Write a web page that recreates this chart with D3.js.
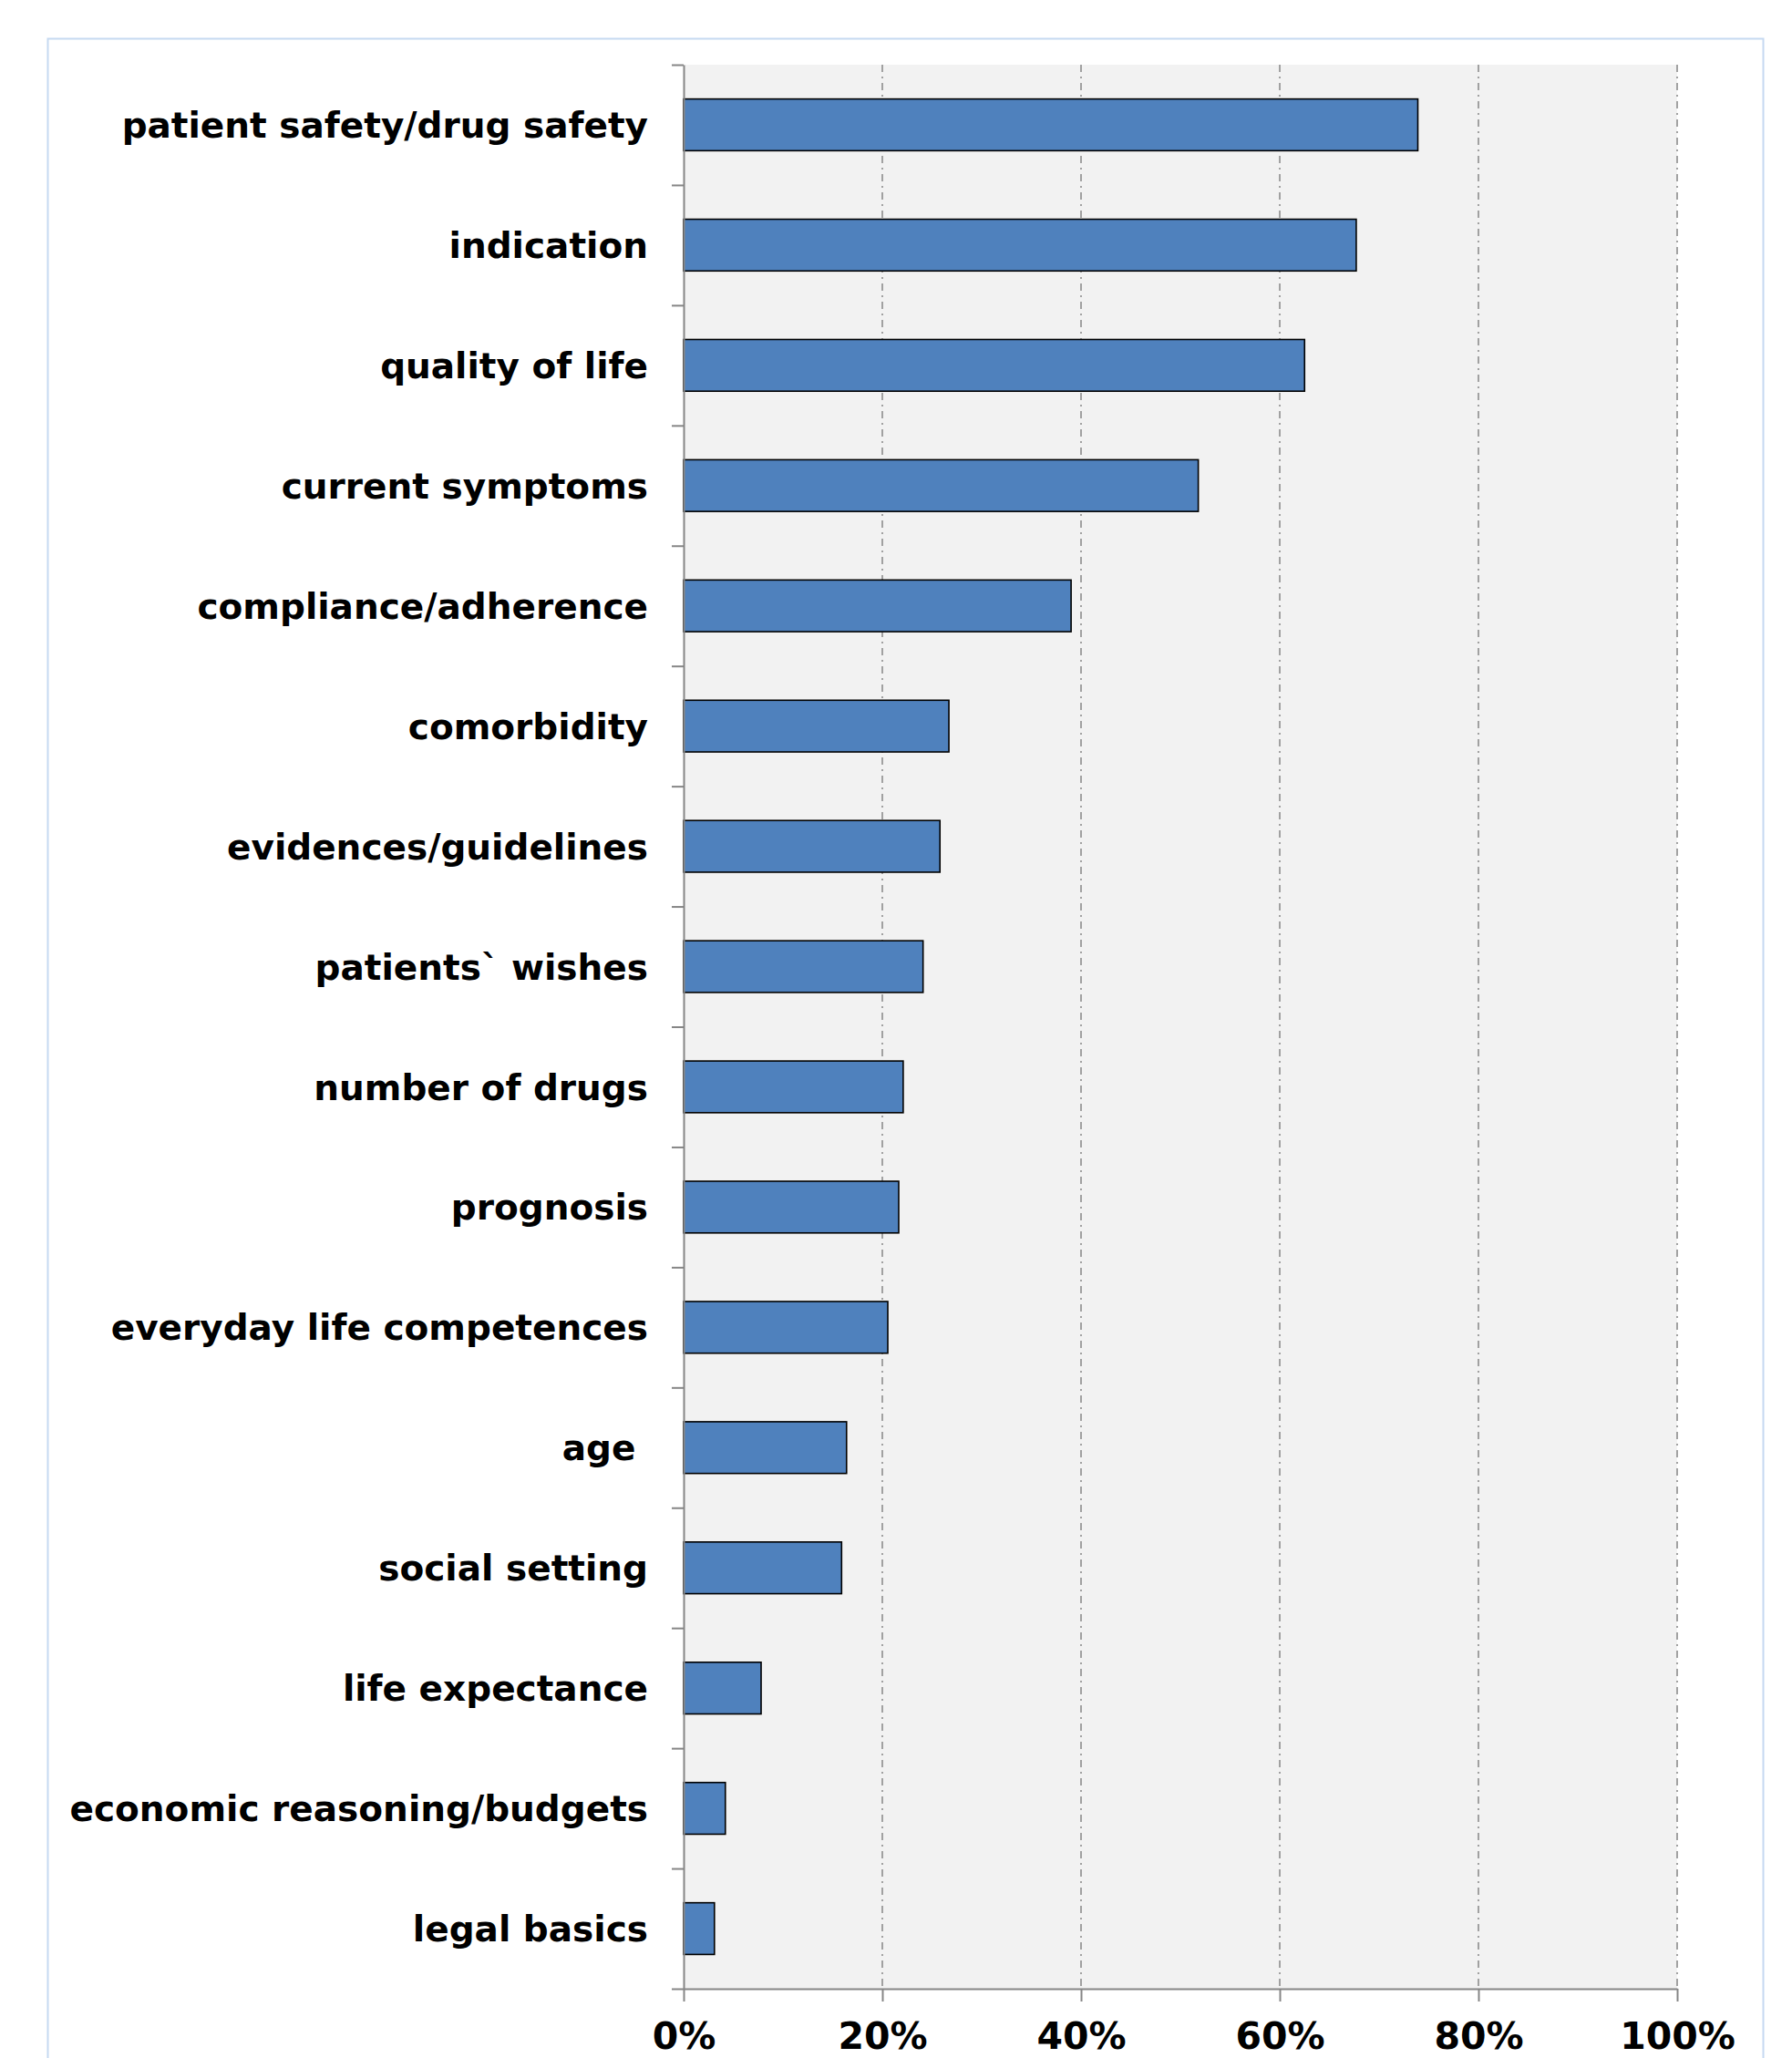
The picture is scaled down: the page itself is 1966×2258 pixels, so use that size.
<!DOCTYPE html>
<html>
<head>
<meta charset="utf-8">
<script src="https://cdn.jsdelivr.net/npm/d3@7"></script>
<style>
	body { margin: 0; background: #fff; }
	svg { display: block; }
	text { font-family: "DejaVu Sans", Verdana, sans-serif; font-weight: bold; fill: #000; }
</style>
</head>
<body>
<div id="chart"></div>
<script>
"use strict";

// Categories from top to bottom
var categories = [
	"patient safety/drug safety",
	"indication",
	"quality of life",
	"current symptoms",
	"compliance/adherence",
	"comorbidity",
	"evidences/guidelines",
	"patients` wishes",
	"number of drugs",
	"prognosis",
	"everyday life competences",
	"age ",
	"social setting",
	"life expectance",
	"economic reasoning/budgets",
	"legal basics"
];

// Share of respondents, percent
var values = [73.9, 67.7, 62.5, 51.8, 39.0, 26.7, 25.8, 24.1, 22.1, 21.65, 20.55, 16.4, 15.9, 7.8, 4.2, 3.1];

var xTickValues = [0, 20, 40, 60, 80, 100];
var xTickLabels = ["0%", "20%", "40%", "60%", "80%", "100%"];

var data = categories.map(function(c, i) { return { key: c, value: values[i] }; });

var totalWidth = 1966,
	totalHeight = 2258,
	margin = { top: 71, left: 750, right: 126, bottom: 76 },
	width = totalWidth - margin.left - margin.right,
	height = totalHeight - margin.top - margin.bottom;

var svg = d3.select("#chart").append("svg")
	.attr("width", totalWidth)
	.attr("height", totalHeight);

/*
 * Outer chart frame
 */
svg.append("rect")
	.attr("x", 52.5)
	.attr("y", 42.5)
	.attr("width", 1882)
	.attr("height", 2300)
	.attr("fill", "#fff")
	.attr("stroke", "#c6d9f1")
	.attr("stroke-width", 2);

var g = svg.append("g")
	.attr("transform", "translate(" + margin.left + "," + margin.top + ")");

// Scales
var x = d3.scaleLinear().domain([0, 100]).range([0, width]);
var y = d3.scaleBand()
	.domain(categories)
	.range([0, height])
	.paddingInner(0.57)
	.paddingOuter(0.285);
var yEdge = d3.scaleLinear().domain([0, categories.length]).range([0, height]);

// Plot area background
g.append("rect")
	.attr("width", width)
	.attr("height", height)
	.attr("fill", "#f2f2f2");

// Gridlines (dash-dot)
g.append("g")
	.attr("class", "grid")
	.selectAll("line")
	.data(xTickValues.slice(1))
	.enter().append("line")
		.attr("x1", function(d) { return x(d); })
		.attr("x2", function(d) { return x(d); })
		.attr("y1", 0)
		.attr("y2", height)
		.attr("stroke", "#868686")
		.attr("stroke-width", 1.5)
		.attr("stroke-dasharray", "8,5,2,5");

// Bars
g.selectAll(".bar")
	.data(data)
	.enter().append("rect")
		.attr("class", "bar")
		.attr("x", x(0))
		.attr("y", function(d) { return y(d.key); })
		.attr("width", function(d) { return x(d.value) - x(0); })
		.attr("height", y.bandwidth())
		.attr("fill", "#4f81bd")
		.attr("stroke", "#000")
		.attr("stroke-width", 1.6);

/*
 * Left axis: ticks on category boundaries, labels centred on the bars
 */
var yAxis = d3.axisLeft(yEdge)
	.tickValues(d3.range(0, categories.length + 1))
	.tickFormat("")
	.tickSize(13)
	.tickSizeOuter(0);

var yAxisG = g.append("g")
	.attr("class", "axis axis--y")
	.call(yAxis);
yAxisG.select(".domain").attr("stroke", "#868686").attr("stroke-width", 2);
yAxisG.selectAll(".tick line").attr("stroke", "#868686").attr("stroke-width", 2);

var yLabels = d3.axisLeft(y).tickSize(0).tickPadding(39);
var yLabelG = g.append("g")
	.attr("class", "axis axis--labels")
	.call(yLabels);
yLabelG.select(".domain").remove();
yLabelG.selectAll(".tick text")
	.attr("font-family", null)
	.attr("font-size", null)
	.style("font-size", "39px")
	.style("white-space", "pre")
	.attr("dy", "0.36em");

/*
 * Bottom axis
 */
var xAxis = d3.axisBottom(x)
	.tickValues(xTickValues)
	.tickFormat(function(d, i) { return xTickLabels[i]; })
	.tickSize(14)
	.tickSizeOuter(0);

var xAxisG = g.append("g")
	.attr("class", "axis axis--x")
	.attr("transform", "translate(0," + height + ")")
	.call(xAxis);
xAxisG.select(".domain").attr("stroke", "#868686").attr("stroke-width", 2);
xAxisG.selectAll(".tick line").attr("stroke", "#868686").attr("stroke-width", 2);
xAxisG.selectAll(".tick text")
	.attr("font-family", null)
	.attr("font-size", null)
	.style("font-size", "41px")
	.attr("y", 66)
	.attr("dy", 0);
</script>
</body>
</html>
